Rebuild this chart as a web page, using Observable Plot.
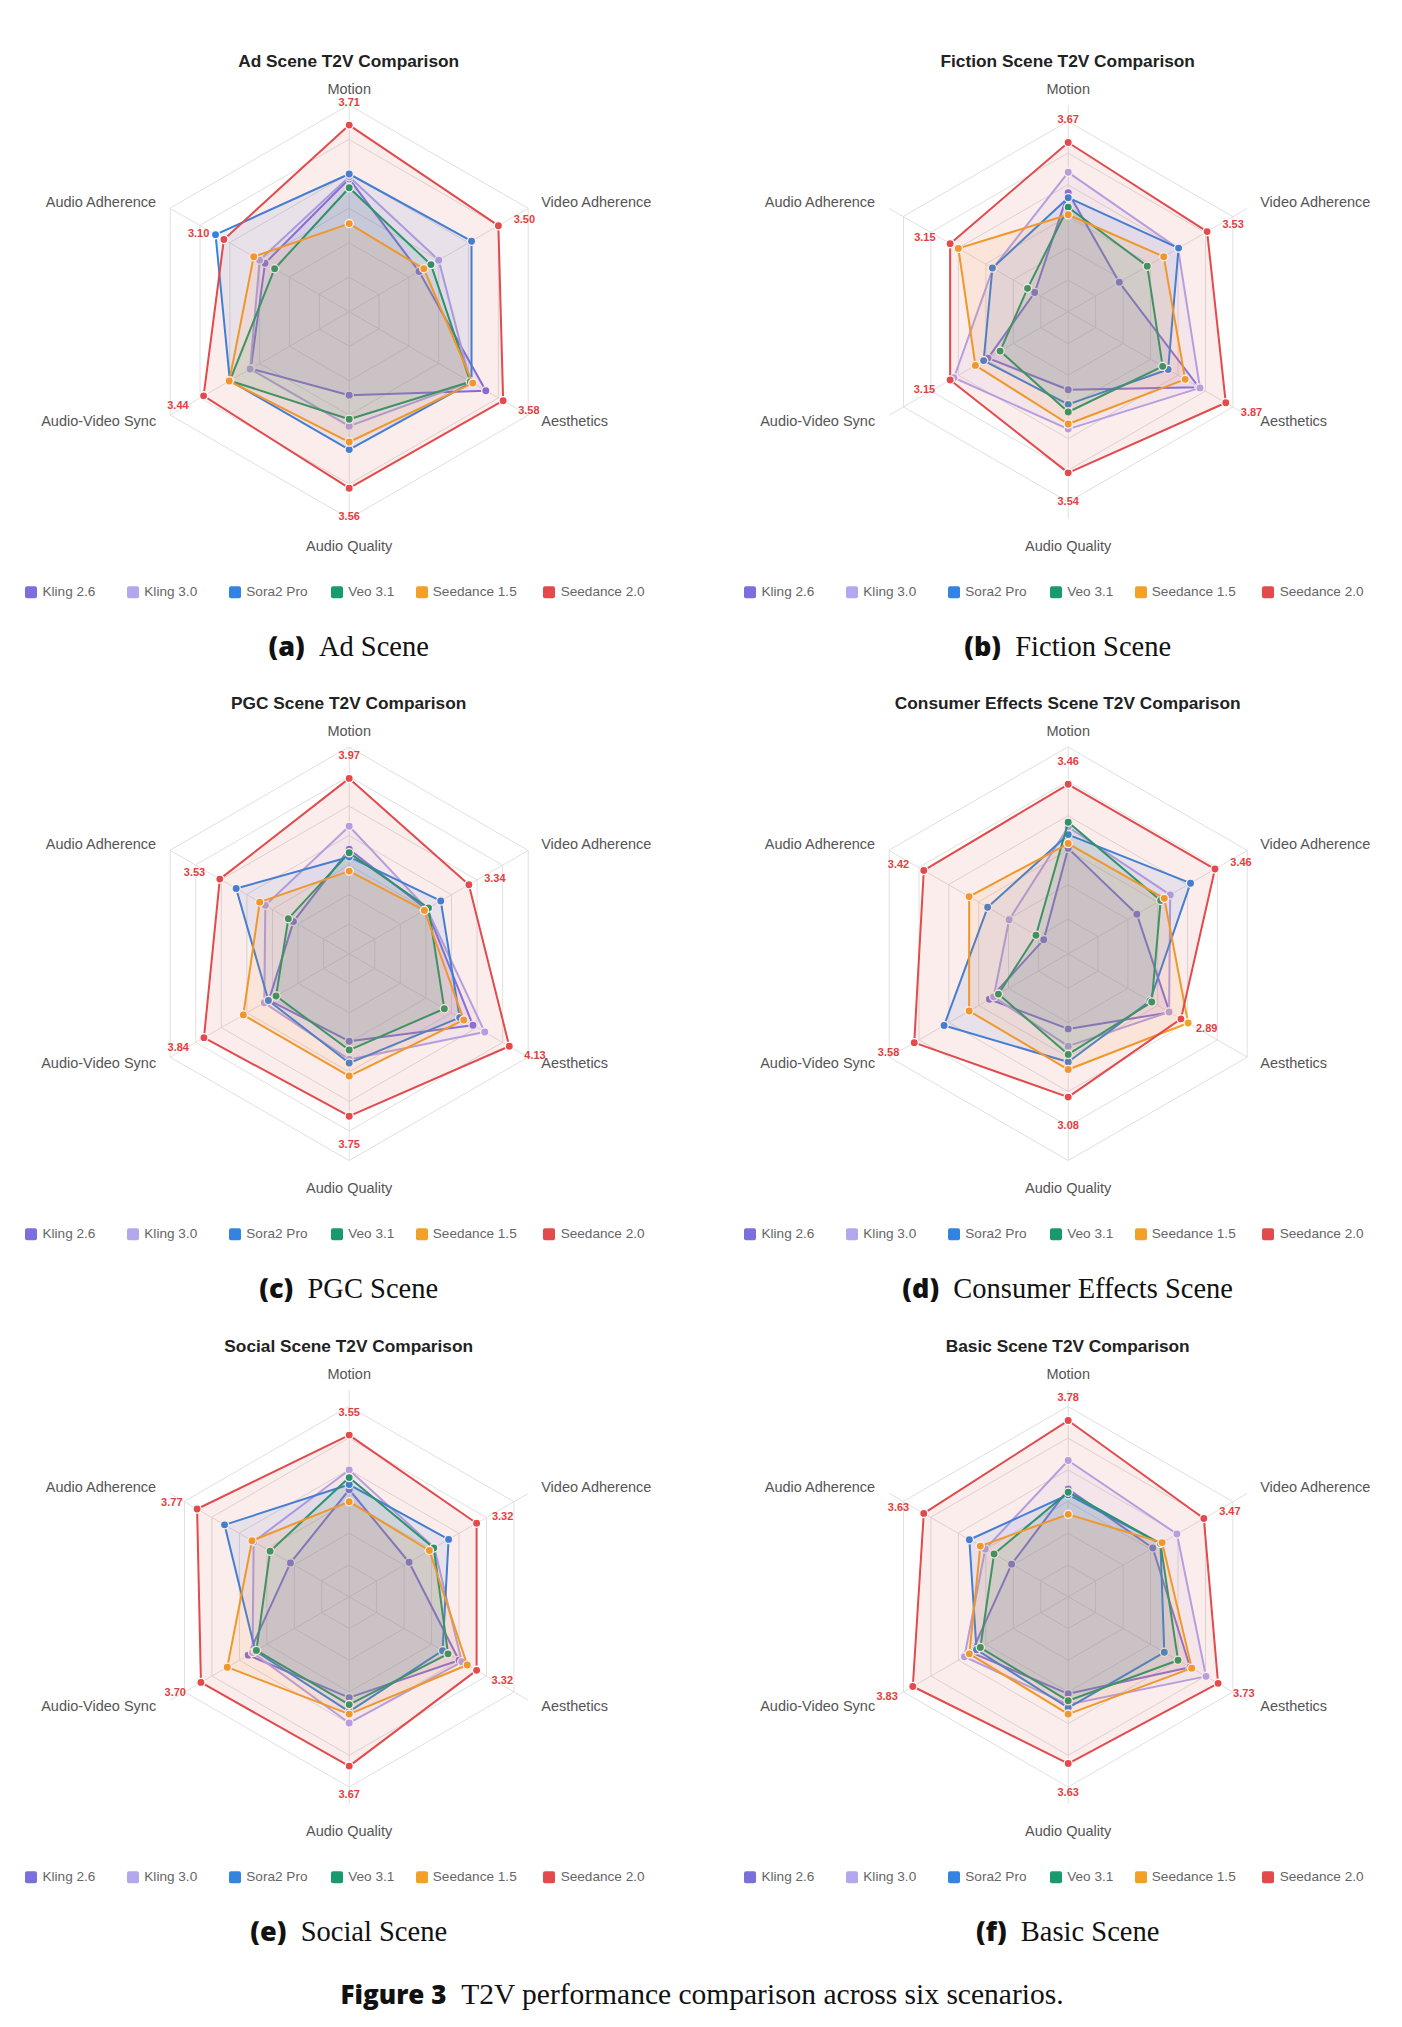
<!DOCTYPE html>
<html>
<head>
<meta charset="utf-8">
<script src="https://cdn.jsdelivr.net/npm/d3@7"></script>
<script src="https://cdn.jsdelivr.net/npm/@observablehq/plot@0.6"></script>
<style>
html,body{margin:0;padding:0;background:#fff;}
#page{position:relative;width:1402px;height:2027px;overflow:hidden;font-family:"Liberation Sans",Arial,sans-serif;}
.panel{position:absolute;width:701px;height:642px;}
.abs{position:absolute;white-space:nowrap;line-height:1;}
.ctr{transform:translate(-50%,-50%);}
.title{font-weight:bold;font-size:17.3px;color:#222;}
.leg{font-size:13.6px;color:#666;transform:translateY(-50%);display:flex;align-items:center;}
.sw{display:inline-block;width:12px;height:12px;border-radius:2px;margin-right:5.3px;}
.sub{font-family:"Liberation Serif",serif;font-size:28.5px;color:#111;}
.sub b{font-family:"Open Sans","Liberation Sans",sans-serif;font-weight:800;font-size:27px;}
.cap{font-family:"Liberation Serif",serif;font-size:29.5px;color:#111;}
.cap b{font-family:"Open Sans","Liberation Sans",sans-serif;font-weight:800;font-size:26px;}
</style>
</head>
<body>
<div id="page"></div>
<script>
// ---------- data ----------
const axes = ["Motion", "Video Adherence", "Aesthetics", "Audio Quality", "Audio-Video Sync", "Audio Adherence"];
const models = ["Kling 2.6", "Kling 3.0", "Sora2 Pro", "Veo 3.1", "Seedance 1.5", "Seedance 2.0"];
const sceneNames = ["Ad Scene", "Fiction Scene", "PGC Scene", "Consumer Effects Scene", "Social Scene", "Basic Scene"];
const subLetters = ["(a)", "(b)", "(c)", "(d)", "(e)", "(f)"];

// rows follow models order, columns follow axes order
const adScene = [
  [2.93, 2.17, 3.29, 2.21, 2.65, 2.41],
  [2.96, 2.50, 3.03, 2.66, 2.66, 2.50],
  [3.00, 3.05, 3.05, 3.00, 3.00, 3.24],
  [2.80, 2.37, 3.03, 2.56, 3.00, 2.25],
  [2.28, 2.25, 3.07, 2.89, 3.01, 2.60],
  [3.71, 3.50, 3.58, 3.56, 3.44, 3.10]
];
const fictionScene = [
  [2.88, 1.93, 3.38, 2.23, 2.46, 1.61],
  [3.20, 3.00, 3.40, 2.85, 3.08, 2.37],
  [2.80, 3.01, 2.82, 2.46, 2.54, 2.38],
  [2.65, 2.44, 2.72, 2.58, 2.24, 1.74],
  [2.53, 2.74, 3.13, 2.77, 2.69, 3.00],
  [3.67, 3.53, 3.87, 3.54, 3.15, 3.15]
];
const pgcScene = [
  [2.77, 2.51, 3.42, 2.48, 2.57, 2.09],
  [3.16, 2.52, 3.65, 2.79, 2.66, 2.64],
  [2.64, 2.79, 3.16, 2.85, 2.58, 3.21],
  [2.71, 2.55, 2.86, 2.63, 2.43, 2.19],
  [2.40, 2.47, 3.24, 3.07, 3.07, 2.75],
  [3.97, 3.34, 4.13, 3.75, 3.84, 3.53]
];
const consumerScene = [
  [2.53, 2.15, 2.70, 2.09, 2.32, 1.41],
  [2.84, 2.71, 2.69, 2.34, 2.25, 1.99],
  [2.73, 3.05, 2.37, 2.57, 3.08, 2.35],
  [2.91, 2.55, 2.40, 2.46, 2.17, 1.54],
  [2.60, 2.61, 3.01, 2.68, 2.66, 2.66],
  [3.46, 3.46, 2.89, 3.08, 3.58, 3.42]
];
const socialScene = [
  [2.69, 2.09, 3.00, 2.59, 2.84, 2.07],
  [3.00, 2.55, 3.05, 2.99, 2.76, 2.74],
  [2.77, 2.81, 2.70, 2.81, 2.71, 3.27],
  [2.88, 2.54, 2.80, 2.70, 2.69, 2.44],
  [2.50, 2.46, 3.15, 2.85, 3.22, 2.77],
  [3.55, 3.32, 3.32, 3.67, 3.70, 3.77]
];
const basicScene = [
  [2.70, 2.54, 3.22, 2.53, 2.76, 2.03],
  [3.15, 2.98, 3.51, 2.70, 2.89, 2.51],
  [2.61, 2.68, 2.75, 2.75, 2.67, 2.80],
  [2.65, 2.68, 3.00, 2.64, 2.60, 2.35],
  [2.30, 2.71, 3.25, 2.85, 2.80, 2.60],
  [3.78, 3.47, 3.73, 3.63, 3.83, 3.63]
];
const sceneValues = [adScene, fictionScene, pgcScene, consumerScene, socialScene, basicScene];
const scaleMax = [4, 4.26, 4.5, 4, 4.26, 4.26];
const scaleMin = 1;
const tickStep = 0.5;

// ---------- style / layout ----------
const modelColors = ["#7b6fde", "#b1a8ee", "#3384e0", "#189a6e", "#f2a027", "#e34a4c"];
const colLeft = [0, 701], colCx = [348.7, 366.7], rowTop = [0, 642, 1285];
const R = 206.7, SVG_W = 701, SVG_H = 500, SVG_TOP = 70, CY = 311.3;
const axisLabelOff = [[0, -15.3, "middle"], [13, -6, "start"], [13, 6.7, "start"], [0, 28.3, "middle"], [-14, 6.7, "end"], [-14, -6, "end"]];
const valueOff = [[0, -22.7], [26, -6.7], [25.7, 9.7], [0, 28.7], [-25.7, 10], [-25.3, -6.3]];
const legendOff = [-323.5, -221.7, -119.7, -17.8, 66.8, 194.7];

function el(tag, cls, txt) {
  const e = document.createElement(tag);
  if (cls) e.className = cls;
  if (txt != null) e.textContent = txt;
  return e;
}

function radar(k, cx) {
  const max = scaleMax[k];
  const cy = CY - SVG_TOP;
  const rad = v => (v - scaleMin) / (max - scaleMin);
  const ang = i => Math.PI / 2 - i * Math.PI / 3;
  const px = (v, i) => rad(v) * Math.cos(ang(i));
  const py = (v, i) => rad(v) * Math.sin(ang(i));
  const ticks = d3.range(scaleMin + tickStep, max + 1e-9, tickStep);
  const ringPts = ticks.flatMap(t => axes.map((a, i) => ({t, i})));
  const spokes = axes.map((a, i) => ({i}));
  const marks = [
    Plot.link(spokes, {x1: () => 0, y1: () => 0, x2: d => px(max, d.i), y2: d => py(max, d.i), stroke: "#e0e0e0", strokeWidth: 1}),
    Plot.line(ringPts, {x: d => px(d.t, d.i), y: d => py(d.t, d.i), z: "t", curve: "linear-closed", stroke: "#e0e0e0", strokeWidth: 1})
  ];
  models.forEach((m, j) => {
    const pts = sceneValues[k][j].map((v, i) => ({v, i}));
    marks.push(Plot.line(pts, {x: d => px(d.v, d.i), y: d => py(d.v, d.i), curve: "linear-closed",
      stroke: modelColors[j], strokeWidth: 2, fill: modelColors[j], fillOpacity: 0.1}));
    marks.push(Plot.dot(pts, {x: d => px(d.v, d.i), y: d => py(d.v, d.i), r: 4.1,
      fill: modelColors[j], stroke: "white", strokeWidth: 1.3}));
  });
  const best = sceneValues[k][models.length - 1];
  axes.forEach((a, i) => {
    marks.push(Plot.text([{v: best[i], i}], {x: d => px(d.v, d.i), y: d => py(d.v, d.i), text: d => d.v.toFixed(2),
      dx: valueOff[i][0], dy: valueOff[i][1], fill: "#e53e3e", fontWeight: "bold", fontSize: 11}));
    marks.push(Plot.text([{a, i}], {x: d => px(max, d.i), y: d => py(max, d.i), text: "a",
      dx: axisLabelOff[i][0], dy: axisLabelOff[i][1], textAnchor: axisLabelOff[i][2], fill: "#555", fontSize: 14.5}));
  });
  return Plot.plot({
    width: SVG_W, height: SVG_H, margin: 0,
    x: {domain: [-cx / R, (SVG_W - cx) / R], range: [0, SVG_W], axis: null},
    y: {domain: [-(SVG_H - cy) / R, cy / R], range: [SVG_H, 0], axis: null},
    style: {fontFamily: "'Liberation Sans', Arial, sans-serif", background: "transparent", overflow: "visible"},
    marks
  });
}

const page = document.getElementById("page");
sceneNames.forEach((name, k) => {
  const col = k % 2, row = Math.floor(k / 2);
  const cx = colCx[col];
  const panel = el("div", "panel");
  panel.style.left = colLeft[col] + "px";
  panel.style.top = rowTop[row] + "px";
  page.appendChild(panel);

  const t = el("div", "abs ctr title", name + " T2V Comparison");
  t.style.left = cx + "px"; t.style.top = "62px";
  panel.appendChild(t);

  const svg = radar(k, cx);
  svg.style.position = "absolute"; svg.style.left = "0px"; svg.style.top = SVG_TOP + "px";
  panel.appendChild(svg);

  models.forEach((m, j) => {
    const it = el("div", "abs leg");
    it.style.left = (cx + legendOff[j]) + "px"; it.style.top = "592px";
    const sw = el("span", "sw"); sw.style.background = modelColors[j];
    it.appendChild(sw); it.appendChild(document.createTextNode(m));
    panel.appendChild(it);
  });

  const s = el("div", "abs ctr sub");
  const b = el("b", null, subLetters[k]);
  s.appendChild(b); s.appendChild(document.createTextNode("\u2002" + name));
  s.style.left = cx + "px"; s.style.top = "647px";
  panel.appendChild(s);
});

const cap = el("div", "abs ctr cap");
const cb = el("b", null, "Figure 3");
cap.appendChild(cb);
cap.appendChild(document.createTextNode("\u2002T2V performance comparison across six scenarios."));
cap.style.left = "702px"; cap.style.top = "1995px";
page.appendChild(cap);
</script>
</body>
</html>
